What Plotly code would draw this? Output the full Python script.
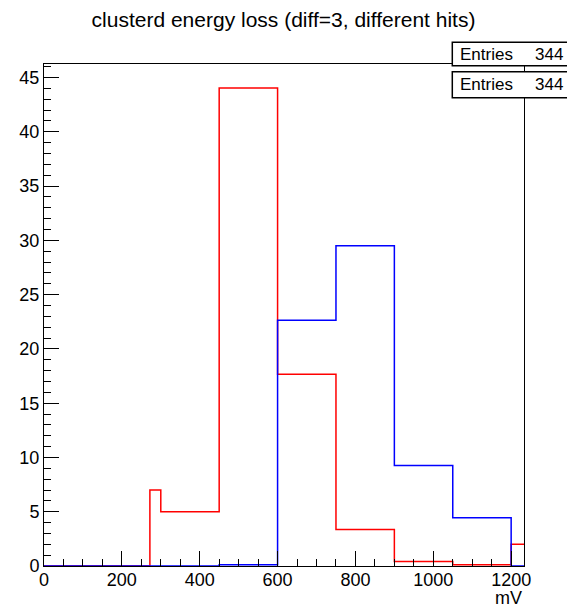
import plotly.graph_objects as go

# Data
bin_edges = [0, 272, 300, 450, 600, 750, 900, 1050, 1200, 1233]
red_counts = [0, 7.0, 5.0, 44.05, 17.67, 3.37, 0.42, 0.12, 2.0]
blue_counts = [0, 0, 0, 0.12, 22.65, 29.5, 9.27, 4.44, 0]
x_ticks = [0, 200, 400, 600, 800, 1000, 1200]
y_ticks = [0, 5, 10, 15, 20, 25, 30, 35, 40, 45]
title_text = "clusterd energy loss (diff=3, different hits)"
x_title = "mV"
stats = [("Entries", "344"), ("Entries", "344")]

FONT = "Liberation Sans, Arial, Helvetica, sans-serif"

fig = go.Figure()
fig.add_trace(go.Scatter(
    x=bin_edges, y=red_counts + [red_counts[-1]],
    mode="lines", line=dict(color="#ff0000", width=1.5, shape="hv"),
    showlegend=False, hoverinfo="skip"))
fig.add_trace(go.Scatter(
    x=bin_edges, y=blue_counts + [blue_counts[-1]],
    mode="lines", line=dict(color="#0000ff", width=1.5, shape="hv"),
    showlegend=False, hoverinfo="skip"))

L, R, T, B = 44, 43, 64, 42
W, H = 567, 608
pw, ph = W - L - R, H - T - B


def px_to_paper_x(px):
    return (px - L) / pw


def px_to_paper_y(py):
    return (H - B - py) / ph


fig.update_layout(
    width=W, height=H,
    margin=dict(l=L, r=R, t=T, b=B),
    paper_bgcolor="white", plot_bgcolor="white",
    font=dict(family=FONT, size=18, color="black"),
    title=dict(text=title_text, x=0.5, xanchor="center",
               y=1 - 20 / H, yanchor="middle", yref="container",
               font=dict(family=FONT, size=21, color="black")),
    xaxis=dict(range=[0, 1233], tickvals=x_ticks, ticks="inside", ticklen=15,
               tickwidth=1, tickcolor="black", showline=True, linecolor="black",
               linewidth=1, mirror=True, showgrid=False, zeroline=False,
               ticklabelstandoff=-3,
               minor=dict(dtick=50, tick0=0, ticks="inside", ticklen=7,
                          tickcolor="black", tickwidth=1, showgrid=False),
               tickfont=dict(family=FONT, size=18, color="black")),
    yaxis=dict(range=[0, 46.25], tickvals=y_ticks, ticks="inside", ticklen=15,
               tickwidth=1, tickcolor="black", showline=True, linecolor="black",
               linewidth=1, mirror=True, showgrid=False, zeroline=False,
               minor=dict(dtick=1, tick0=0, ticks="inside", ticklen=7,
                          tickcolor="black", tickwidth=1, showgrid=False),
               tickfont=dict(family=FONT, size=18, color="black")),
)

fig.add_annotation(text=x_title, xref="paper", yref="paper",
                   x=1, y=px_to_paper_y(598), xanchor="right", yanchor="middle",
                   showarrow=False, font=dict(family=FONT, size=18, color="black"))

boxes = [(42.3, 65.7, 54.0), (71.7, 97.7, 85.0)]
for (top, bot, cy), (label, value) in zip(boxes, stats):
    fig.add_shape(type="rect", xref="paper", yref="paper",
                  x0=px_to_paper_x(452.3), x1=px_to_paper_x(575),
                  y0=px_to_paper_y(bot), y1=px_to_paper_y(top),
                  line=dict(color="black", width=1.5), fillcolor="white",
                  layer="above")
    fig.add_annotation(text=label, xref="paper", yref="paper",
                       x=px_to_paper_x(458), y=px_to_paper_y(cy),
                       xanchor="left", yanchor="middle", showarrow=False,
                       font=dict(family=FONT, size=17, color="black"))
    fig.add_annotation(text=value, xref="paper", yref="paper",
                       x=px_to_paper_x(565), y=px_to_paper_y(cy),
                       xanchor="right", yanchor="middle", showarrow=False,
                       font=dict(family=FONT, size=17, color="black"))

fig.write_html("out.html")
